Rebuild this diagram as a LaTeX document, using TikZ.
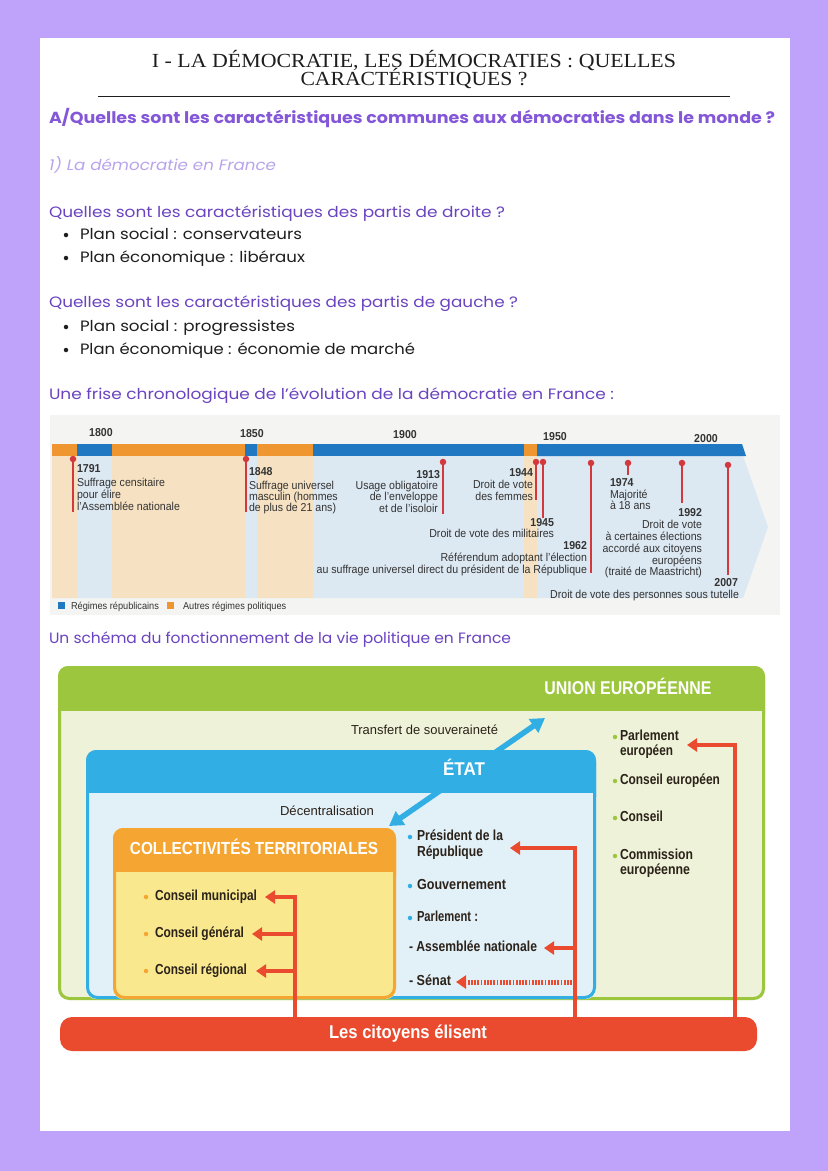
\documentclass[tikz,border=0pt]{standalone}
\usepackage{fontspec}
\usepackage{graphicx}
\setmainfont{Poppins}
\newfontfamily\ttlf{Liberation Serif}
\newfontfamily\tlf[FakeStretch=0.92]{Liberation Sans}
\newfontfamily\scf[FakeStretch=0.8]{Liberation Sans}
\usetikzlibrary{arrows.meta}
\newcommand\fitto[2]{\resizebox{#1}{\height}{#2}}
\definecolor{bgpurple}{HTML}{BFA3FB}
\definecolor{hpurple}{HTML}{8357D8}
\definecolor{qpurple}{HTML}{6A43C0}
\definecolor{spurple}{HTML}{B9A4EC}
\definecolor{ink}{HTML}{1E1E1E}
\definecolor{tlbg}{HTML}{F4F4F2}
\definecolor{tlor}{HTML}{EF9630}
\definecolor{tlbl}{HTML}{1F78C1}
\definecolor{tlpor}{HTML}{F6E2C2}
\definecolor{tlpbl}{HTML}{DCE8F2}
\definecolor{tlink}{HTML}{333333}
\definecolor{tlred}{HTML}{D2383C}
\definecolor{sgreen}{HTML}{9CC63E}
\definecolor{spgreen}{HTML}{EEF2D8}
\definecolor{sblue}{HTML}{31AEE3}
\definecolor{spblue}{HTML}{E2F0F8}
\definecolor{sorange}{HTML}{F5A531}
\definecolor{syellow}{HTML}{F9E88E}
\definecolor{sred}{HTML}{EA4A2D}
\definecolor{sink}{HTML}{2B2219}
\newcommand\hdrbox[7]{%
 \fill[#2, rounded corners=10pt] (#3,#4) rectangle (#5,#6);
 \fill[#1, rounded corners=10pt] (#3,#4) rectangle (#5,#7+14);
 \fill[#2] (#3+3,#7) rectangle (#5-3,#7+15);
 \draw[#1, line width=3pt, rounded corners=10pt] (#3+1.5,#4+1.5) rectangle (#5-1.5,#6-1.5);
}
\tikzset{
 stxt/.style={inner sep=0pt, outer sep=0pt, text height=.7em, text depth=0pt},
 stitle/.style={stxt, font=\ttlf\fontsize{20}{22}\selectfont, text=ink},
 sbody/.style={stxt, font=\fontsize{15}{18}\selectfont, text=ink},
 sdot/.style={circle, fill=ink, inner sep=0pt, minimum size=4.5pt},
 squest/.style={stxt, font=\fontsize{15}{18}\selectfont, text=qpurple},
 stl/.style={stxt, font=\tlf\fontsize{11.5}{13}\selectfont, text=tlink},
 stlb/.style={stxt, font=\tlf\bfseries\fontsize{11.5}{13}\selectfont, text=tlink},
 stlg/.style={stxt, font=\tlf\fontsize{10}{11}\selectfont, text=tlink},
 stlline/.style={draw=tlred, line width=1.6pt},
 stldot/.style={circle, fill=tlred, inner sep=0pt, minimum size=6.5pt},
 ssch/.style={stxt, font=\scf\bfseries\fontsize{14.5}{17}\selectfont, text=sink},
 sschr/.style={stxt, font=\scf\fontsize{13}{15}\selectfont, text=sink},
 sschw/.style={stxt, font=\scf\bfseries\fontsize{18.5}{20}\selectfont, text=white},
 sbul/.style={circle, inner sep=0pt, minimum size=4.5pt},
 sredl/.style={draw=sred, line width=4pt, -{Triangle[length=10pt,width=13pt]}},
 sreddot/.style={draw=sred, line width=5pt, dash pattern=on 1.8pt off 1.4pt, -{Triangle[length=10pt,width=13pt]}},
 sbluearr/.style={draw=sblue, line width=5.5pt, {Triangle[length=14pt,width=16pt]}-{Triangle[length=14pt,width=16pt]}},
}
\begin{document}
\begin{tikzpicture}[x=1pt,y=-1pt]
\useasboundingbox (0,0) rectangle (828,1171);
\fill[bgpurple] (0,0) rectangle (828,1171);
\fill[white] (40,38) rectangle (790,1131);
% title
\node[stitle] (t1) at (414,64) {\fitto{524pt}{I - LA DÉMOCRATIE, LES DÉMOCRATIES : QUELLES}};
\node[stitle] (t2) at (414,82) {\fitto{227pt}{CARACTÉRISTIQUES ?}};
\coordinate (r1) at (98,96.5); \coordinate (r2) at (730,96.5);
\draw[line width=1.6pt, ink] (r1) -- (r2);
% headings
\node[stxt, font=\bfseries\fontsize{16}{19}\selectfont, text=hpurple, anchor=west] (ha) at (49,120) {\fitto{726pt}{A/Quelles sont les caractéristiques communes aux démocraties dans le monde ?}};
\node[stxt, font=\itshape\fontsize{15}{18}\selectfont, text=spurple, anchor=west] (h1) at (49,167) {\fitto{227pt}{1) La démocratie en France}};
\node[squest, anchor=west] (q1) at (49,214) {\fitto{456pt}{Quelles sont les caractéristiques des partis de droite ?}};
\node[sdot] (b1) at (66,235) {};
\node[sbody, anchor=west] (l1) at (80,236) {\fitto{222pt}{Plan social : conservateurs}};
\node[sdot] (b2) at (66,258) {};
\node[sbody, anchor=west] (l2) at (80,259) {\fitto{225pt}{Plan économique : libéraux}};
\node[squest, anchor=west] (q2) at (49,304) {\fitto{469pt}{Quelles sont les caractéristiques des partis de gauche ?}};
\node[sdot] (b3) at (66,327) {};
\node[sbody, anchor=west] (l3) at (80,328) {\fitto{215pt}{Plan social : progressistes}};
\node[sdot] (b4) at (66,350) {};
\node[sbody, anchor=west] (l4) at (80,351) {\fitto{335pt}{Plan économique : économie de marché}};
\node[squest, anchor=west] (q3) at (49,396) {\fitto{565pt}{Une frise chronologique de l’évolution de la démocratie en France :}};
% timeline
\fill[tlbg] (50,415) rectangle (780,615);
\fill[tlpbl] (52,456) -- (743,456) -- (768,527) -- (743,598) -- (52,598) -- cycle;
\fill[tlpor] (52,456) rectangle (77,598);
\fill[tlpor] (112,456) rectangle (245,598);
\fill[tlpor] (257,456) rectangle (313,598);
\fill[tlpor] (524,456) rectangle (537,598);
\fill[tlor] (52,444) rectangle (77,456);
\fill[tlbl] (77,444) rectangle (112,456);
\fill[tlor] (112,444) rectangle (245,456);
\fill[tlbl] (245,444) rectangle (257,456);
\fill[tlor] (257,444) rectangle (313,456);
\fill[tlbl] (313,444) rectangle (524,456);
\fill[tlor] (524,444) rectangle (537,456);
\fill[tlbl] (537,444) -- (742,444) -- (746,456) -- (537,456) -- cycle;
\node[stlb] (y1800) at (101,433) {1800};
\node[stlb] (y1850) at (252,434) {1850};
\node[stlb] (y1900) at (405,435) {1900};
\node[stlb] (y1950) at (555,437) {1950};
\node[stlb] (y2000) at (706,439) {2000};
\foreach \n/\x/\ya/\yb in {1791/73/459/512, 1848/246/459/512, 1913/443/462/514, 1944/536/462/500, 1945/543/462/518, 1962/591/463/573, 1974/628/463/475, 1992/682/463/503, 2007/728/465/575}{
  \coordinate (s\n) at (\x,\ya); \coordinate (e\n) at (\x,\yb);
  \draw[stlline] (s\n) -- (e\n);
  \node[stldot] (d\n) at (s\n) {};
}
\node[stlb, anchor=west] (a1) at (77,469) {1791};
\node[stl, anchor=west] (a2) at (77,483) {Suffrage censitaire};
\node[stl, anchor=west] (a3) at (77,495) {pour élire};
\node[stl, anchor=west] (a4) at (77,507) {l’Assemblée nationale};
\node[stlb, anchor=west] (c1) at (249,472) {1848};
\node[stl, anchor=west] (c2) at (249,486) {Suffrage universel};
\node[stl, anchor=west] (c3) at (249,497) {masculin (hommes};
\node[stl, anchor=west] (c4) at (249,508) {de plus de 21 ans)};
\node[stlb, anchor=east] (f1) at (440,475) {1913};
\node[stl, anchor=east] (f2) at (438,486) {Usage obligatoire};
\node[stl, anchor=east] (f3) at (438,497) {de l’enveloppe};
\node[stl, anchor=east] (f4) at (438,509) {et de l’isoloir};
\node[stlb, anchor=east] (g1) at (533,473) {1944};
\node[stl, anchor=east] (g2) at (533,485) {Droit de vote};
\node[stl, anchor=east] (g3) at (533,497) {des femmes};
\node[stlb, anchor=east] (h1a) at (554,523) {1945};
\node[stl, anchor=east] (h2a) at (554,534) {Droit de vote des militaires};
\node[stlb, anchor=east] (i1) at (587,546) {1962};
\node[stl, anchor=east] (i2) at (587,558) {Référendum adoptant l’élection};
\node[stl, anchor=east] (i3) at (587,570) {au suffrage universel direct du président de la République};
\node[stlb, anchor=west] (j1) at (610,483) {1974};
\node[stl, anchor=west] (j2) at (610,495) {Majorité};
\node[stl, anchor=west] (j3) at (610,506) {à 18 ans};
\node[stlb, anchor=east] (k1) at (702,513) {1992};
\node[stl, anchor=east] (k2) at (702,525) {Droit de vote};
\node[stl, anchor=east] (k3) at (702,537) {à certaines élections};
\node[stl, anchor=east] (k4) at (702,549) {accordé aux citoyens};
\node[stl, anchor=east] (k5) at (702,561) {européens};
\node[stl, anchor=east] (k6) at (702,572) {(traité de Maastricht)};
\node[stlb, anchor=east] (m1) at (738,583) {2007};
\node[stl, anchor=east] (m2) at (739,595) {Droit de vote des personnes sous tutelle};
\fill[tlbl] (58,602) rectangle (65,609);
\node[stlg, anchor=west] (lg1) at (71,605.5) {Régimes républicains};
\fill[tlor] (167,602) rectangle (174,609);
\node[stlg, anchor=west] (lg2) at (183,605.5) {Autres régimes politiques};
% schema heading
\node[squest, anchor=west] (q4) at (49,640) {\fitto{462pt}{Un schéma du fonctionnement de la vie politique en France}};
% schema boxes
\hdrbox{sgreen}{spgreen}{58}{666}{765}{1000}{711}
\hdrbox{sblue}{spblue}{86}{750}{596}{999}{793}
\hdrbox{sorange}{syellow}{113}{828}{396}{999}{872}
\node[sschw] (ue) at (628,691) {\fitto{167pt}{UNION EUROPÉENNE}};
\node[sschr, anchor=west] (tr) at (351,731) {\fitto{147pt}{Transfert de souveraineté}};
\node[sschr, anchor=west] (dec) at (280,812) {\fitto{94pt}{Décentralisation}};
\coordinate (ba1) at (389,826); \coordinate (ba2) at (545,718);
\draw[sbluearr] (ba1) -- (ba2);
\fill[sblue] (380,752.5) rectangle (570,791);
\node[sschw] (etat) at (464,772) {\fitto{42pt}{ÉTAT}};
\node[sschw, font=\scf\bfseries\fontsize{17.5}{19}\selectfont] (coll) at (254,851) {\fitto{248pt}{COLLECTIVITÉS TERRITORIALES}};
% collectivites items
\node[sbul, fill=sorange] (bm) at (146,897) {};
\node[ssch, anchor=west] (mun) at (155,897) {\fitto{102pt}{Conseil municipal}};
\node[sbul, fill=sorange] (bg) at (146,934) {};
\node[ssch, anchor=west] (gen) at (155,934) {\fitto{89pt}{Conseil général}};
\node[sbul, fill=sorange] (br) at (146,971) {};
\node[ssch, anchor=west] (reg) at (155,971) {\fitto{92pt}{Conseil régional}};
% etat items
\node[sbul, fill=sblue] (bp) at (410,837) {};
\node[ssch, anchor=west] (pres) at (417,837) {\fitto{86pt}{Président de la}};
\node[ssch, anchor=west] (rep) at (417,853) {\fitto{66pt}{République}};
\node[sbul, fill=sblue] (bgo) at (410,886) {};
\node[ssch, anchor=west] (gouv) at (417,886) {\fitto{89pt}{Gouvernement}};
\node[sbul, fill=sblue] (bpa) at (410,918) {};
\node[ssch, anchor=west] (parl) at (417,918) {\fitto{61pt}{Parlement :}};
\node[ssch, anchor=west] (asn) at (409,948) {\fitto{128pt}{- Assemblée nationale}};
\node[ssch, anchor=west] (sen) at (409,982) {\fitto{42pt}{- Sénat}};
% UE items
\node[sbul, fill=sgreen] (bu1) at (615,737) {};
\node[ssch, anchor=west] (pe1) at (620,737) {\fitto{59pt}{Parlement}};
\node[ssch, anchor=west] (pe2) at (620,752) {\fitto{53pt}{européen}};
\node[sbul, fill=sgreen] (bu2) at (615,781) {};
\node[ssch, anchor=west] (ce) at (620,781) {\fitto{100pt}{Conseil européen}};
\node[sbul, fill=sgreen] (bu3) at (615,818) {};
\node[ssch, anchor=west] (co) at (620,818) {\fitto{43pt}{Conseil}};
\node[sbul, fill=sgreen] (bu4) at (615,856) {};
\node[ssch, anchor=west] (cm1) at (620,856) {\fitto{73pt}{Commission}};
\node[ssch, anchor=west] (cm2) at (620,871) {\fitto{70pt}{européenne}};
% citizens bar
\node[fill=sred, rounded corners=12pt, minimum width=697pt, minimum height=34pt, inner sep=0pt] (cit) at (408.5,1034) {};
\node[sschw] (citt) at (408,1035) {\fitto{158pt}{Les citoyens élisent}};
% red arrows
\coordinate (cx1) at (295,0); \coordinate (cx2) at (575,0); \coordinate (cx2d) at (572,0); \coordinate (cx3) at (735,0);
\coordinate (tpres) at (510,848); \coordinate (tparl) at (687,745);
\draw[sredl] ([yshift=-2pt]cit.north -| cx1) |- ([xshift=8pt]mun.east);
\draw[sredl] (cx1 |- gen.east) -- ([xshift=8pt]gen.east);
\draw[sredl] (cx1 |- reg.east) -- ([xshift=9pt]reg.east);
\draw[sredl] ([yshift=-2pt]cit.north -| cx2) |- (tpres);
\draw[sredl] (cx2 |- asn.east) -- ([xshift=7pt]asn.east);
\draw[sreddot] (cx2d |- sen.east) -- ([xshift=5pt]sen.east);
\draw[sredl] ([yshift=-2pt]cit.north -| cx3) |- (tparl);
\end{tikzpicture}
\end{document}
